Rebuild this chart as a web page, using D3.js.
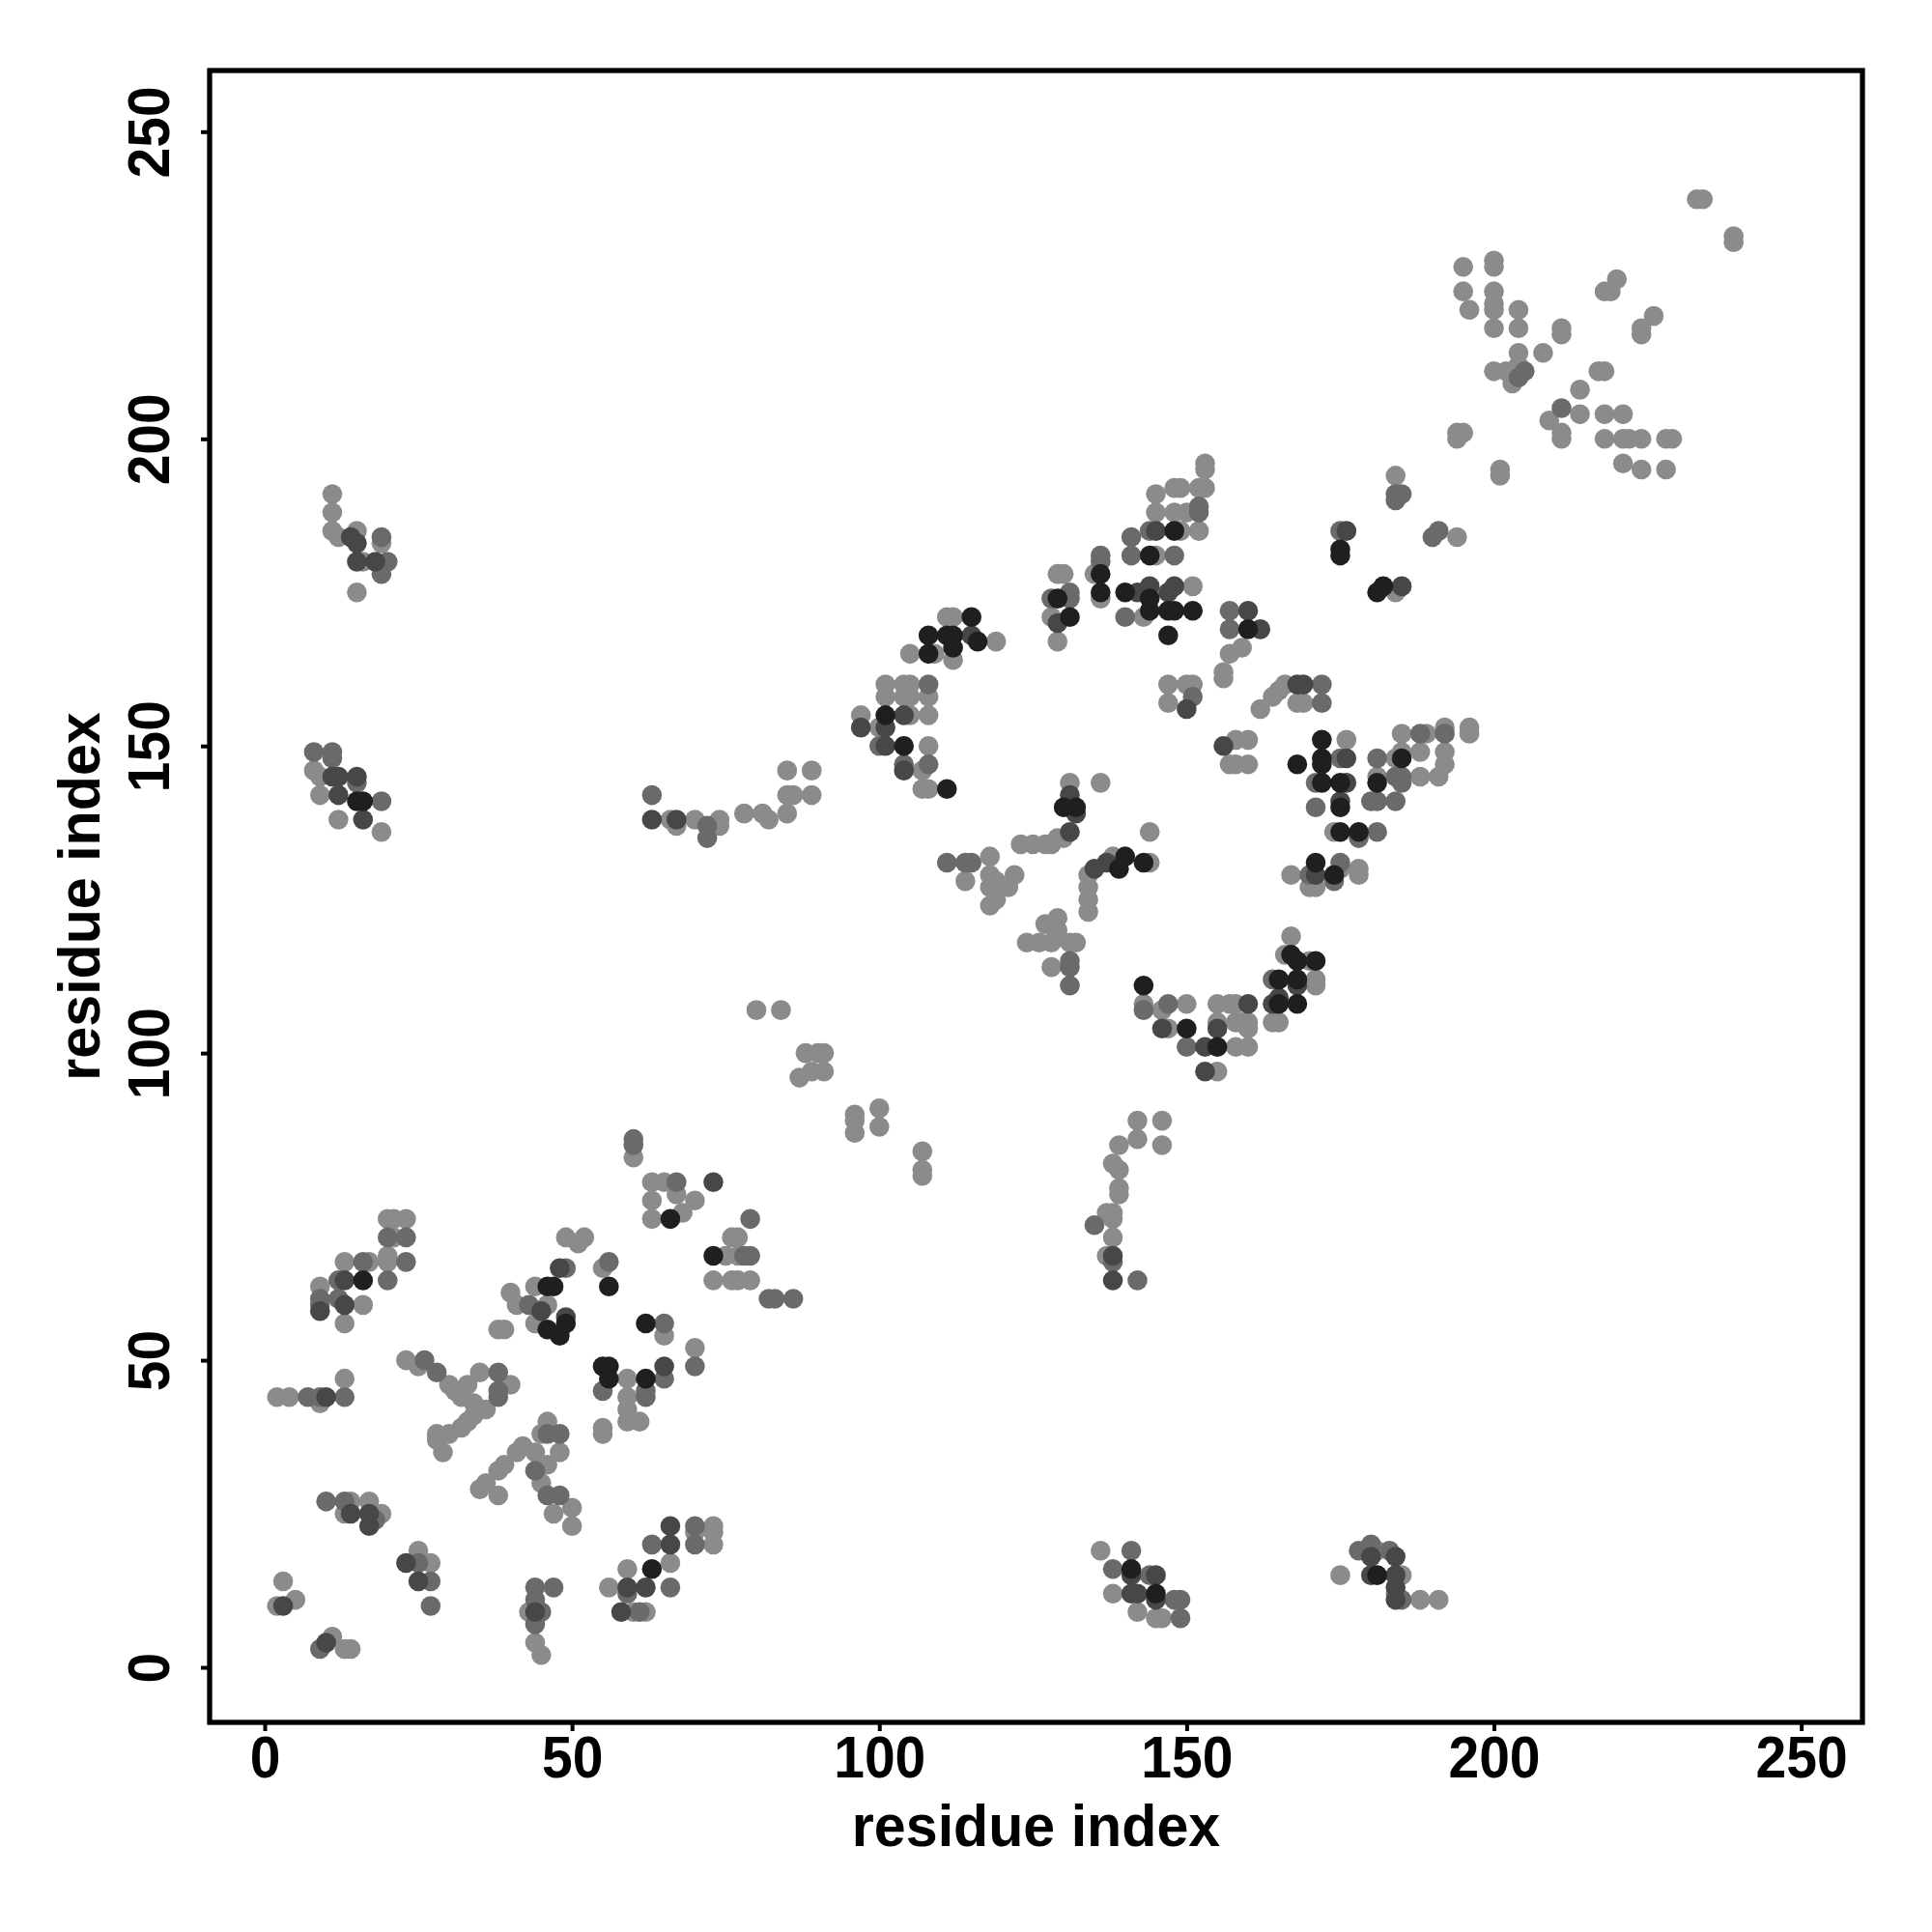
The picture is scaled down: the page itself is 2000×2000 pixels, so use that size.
<!DOCTYPE html>
<html><head><meta charset="utf-8">
<script src="https://cdn.jsdelivr.net/npm/d3@7"></script>
<style>body{margin:0;background:#fff}svg{display:block}</style>
</head><body>
<script>
// Each contact: [residue i (x), residue j (y), score level 1..4]
const lowerLeftContacts = [
 [20,73,1],[21,73,1],[23,73,1],[20,70,2],[21,70,1],[23,70,2],[13,66,1],[16,66,2],[17,66,1],[20,66,1],[23,66,2],[20,67,1],
 [12,63,2],[13,63,3],[16,63,4],[20,63,2],[9,62,1],[9,60,2],[9,59,2],[9,58,3],[12,60,2],[13,59,3],[16,59,1],[13,56,1],
 [2,44,1],[4,44,1],[7,44,2],[9,44,2],[10,44,3],[13,44,2],[13,47,1],[9,43,1]
];
const sheetContacts = [
 [23,50,1],[25,49,1],[26,50,2],[28,48,2],[30,46,1],[31,45,1],[33,46,1],[32,44,1],[34,43,1],[36,42,1],[35,48,1],[38,48,2],[40,46,1],[38,45,2],[38,44,2],
 [28,38,1],[30,38,1],[32,39,1],[33,40,1],[34,41,1],[29,35,1],[28,37,1],
 [46,40,1],[46,38,2],[48,38,2],[45,38,1],[42,36,1],[41,35,1],[39,33,1],[38,32,1],[36,30,1],[35,29,1],[38,28,1],
 [44,35,1],[46,33,1],[48,35,1],[44,32,2],[45,30,1],[46,28,2],[48,28,2],[50,26,1],[50,23,1],[47,25,1],
 [49,70,1],[52,70,1],[51,69,1],[48,65,3],[49,65,2],[55,65,1],[56,66,2],[56,62,4],[40,61,1],[44,62,1],[46,62,4],[47,62,4],
 [41,59,1],[43,59,2],[45,58,3],[46,59,1],[38,55,1],[39,55,1],[44,56,1],[46,55,4],[49,56,4],[48,54,4],[49,57,3],
 [62,56,4],[65,56,2],[65,54,1],[70,52,1],[70,49,2],[65,49,3],[65,47,2],[55,49,4],[56,49,4],[56,47,4],[55,45,2],
 [59,47,1],[59,44,1],[59,42,1],[59,40,1],[61,40,1],[62,47,4],[62,45,2],[62,44,2],[55,39,1],[55,38,1]
];
const nearDiagonalA = [
 [63,79,1],[65,79,1],[67,79,2],[73,79,3],[63,76,1],[67,77,1],[70,76,1],[63,73,1],[66,73,4],[68,74,1],[79,73,2],
 [73,67,4],[75,67,1],[77,67,1],[78,67,2],[79,67,2],[76,70,1],[77,70,1],[73,63,1],[76,63,1],[77,63,1],[79,63,1],
 [82,60,2],[83,60,2],[86,60,2],[60,86,2],[60,85,2],[60,83,1],
 [80,107,1],[84,107,1],[88,100,1],[90,100,1],[91,100,1],[87,96,1],[89,97,1],[91,97,1],
 [96,90,1],[96,89,1],[96,87,1],[100,91,1],[100,88,1],[107,84,1],[107,81,1],[107,80,1]
];
const bottomContacts = [
 [10,27,2],[13,27,2],[14,27,1],[17,27,1],[13,25,1],[14,25,3],[17,25,3],[19,25,1],[17,23,3],[18,24,2],
 [23,17,3],[25,19,1],[25,17,2],[27,17,1],[25,14,3],[27,14,2],[27,10,2],
 [3,14,1],[2,10,1],[3,10,3],[5,11,1],[10,4,3],[11,5,1],[14,3,1],[13,3,1],[9,3,2],
 [44,13,2],[47,13,2],[44,9,3],[44,7,2],[43,9,1],[45,9,2],[44,4,1],[45,2,1],[44,11,2],
 [56,13,1],[59,13,3],[62,13,3],[59,12,2],[59,16,1],[63,16,4],[66,17,1],[63,20,2],[66,20,3],[66,23,3],
 [70,23,2],[70,20,2],[73,23,1],[73,20,1],[66,13,2],[58,9,3],[60,9,1],[62,9,1],[61,9,2],[70,22,1],[73,22,1],
 [136,19,1],[141,19,2],[138,16,2],[141,16,4],[141,15,3],[144,15,2],[145,15,3],[138,12,1],[141,12,3],[142,12,3],
 [145,12,4],[145,11,3],[148,11,2],[149,11,2],[142,9,1],[145,8,1],[146,8,1],[149,8,2],
 [175,15,1],[178,19,2],[180,20,2],[180,18,3],[181,19,1],[183,19,2],[184,18,3],[180,15,3],[181,15,4],[184,15,3],
 [185,15,1],[184,13,3],[184,12,1],[184,11,3],[185,11,2],[188,11,1],[191,11,1],
 [139,78,1],[139,77,1],[137,74,1],[138,74,1],[135,72,2],[138,73,1],[138,70,1],[137,67,1],[138,67,3],[138,66,2],
 [138,63,3],[142,63,2],[142,89,1],[146,89,1],[142,86,1],[146,85,1],[139,85,1],[138,82,1],[139,81,1]
];
const leftContacts = [
 [8,149,2],[11,149,2],[11,148,2],[8,146,1],[9,145,1],[11,145,3],[12,145,3],[15,145,3],[15,144,2],[9,142,1],
 [12,142,3],[15,141,4],[16,141,4],[19,141,2],[12,138,1],[16,138,3],[19,136,1],
 [11,191,1],[11,188,1],[11,185,1],[12,184,1],[15,185,1],[15,183,3],[14,184,3],[19,184,2],[19,183,1],
 [15,180,3],[16,180,1],[18,180,3],[20,180,2],[19,178,2],[15,175,1],
 [63,142,2],[63,138,3],[66,138,1],[67,138,3],[67,137,1],[70,138,1],[72,137,2],[74,138,1],[74,137,1],[72,135,2],
 [78,139,1],[81,139,1],[82,138,1],[85,139,1],[85,146,1],[89,146,1],[85,142,1],[86,142,1],[89,142,1]
];
const middleContacts = [
 [101,160,1],[101,158,1],[104,160,1],[105,160,1],[104,158,1],[105,158,1],[108,160,2],[108,158,1],[108,155,1],[97,155,1],
 [101,155,4],[104,155,3],[105,155,1],[97,153,3],[100,153,1],[101,153,3],[100,150,2],[101,150,3],[104,150,4],[108,150,1],
 [104,147,2],[104,146,3],[107,146,1],[108,147,2],[107,143,1],[108,143,1],[111,143,4],
 [131,144,1],[136,144,1],[131,142,3],[130,140,4],[132,140,4],[132,139,3],[131,136,3],[130,135,1],[129,135,1],[128,134,1],
 [123,134,1],[125,134,1],[127,134,1],
 [144,136,1],[144,131,1],[143,131,4],[140,132,4],[139,130,4],[138,132,1],[137,131,3],[135,130,3],[134,129,1],[134,127,1],
 [134,125,1],[134,123,1],
 [111,131,2],[114,131,2],[115,131,2],[114,128,1],[118,132,1],[118,129,1],[119,128,1],[122,129,1],[121,127,1],[118,127,1],
 [118,124,1],[119,125,1],
 [129,122,1],[127,121,1],[129,120,1],[124,118,1],[126,118,1],[128,118,1],[131,118,1],[132,118,1],[128,114,1],[131,115,2],
 [131,114,2],[131,111,2],
 [143,111,4],[143,108,1],[143,107,2],[147,108,2],[146,107,1],[150,108,1],[155,108,1],[157,108,1],[160,108,3],
 [146,104,3],[147,104,1],[150,104,4],[155,105,1],[155,104,3],[158,105,1],[159,105,1],[150,101,2],[153,101,3],
 [155,101,4],[158,101,1],[160,101,1],[153,97,3],[155,97,1],
 [147,160,1],[147,157,1],[150,160,1],[151,158,2],[150,156,3],[156,161,1],[156,150,3],[158,151,1],[160,151,1],
 [157,147,1],[160,147,1],[158,147,1]
];
const upperMiddleContacts = [
 [162,156,1],[164,158,1],[165,159,1],[166,160,1],[168,160,3],[169,160,3],[172,160,2],[168,157,1],[169,157,1],[172,157,2],
 [172,151,4],[176,151,1],[168,147,4],[172,148,4],[172,147,4],[175,148,2],[176,148,3],[171,144,2],[172,144,4],[175,144,4],
 [176,144,3],[171,140,2],[175,141,3],[175,140,4],[174,136,1],[175,136,4],[178,136,4],[178,135,2],[181,136,2],
 [180,141,2],[181,141,2],[184,141,2],
 [181,148,2],[181,145,1],[181,144,4],[184,148,1],[185,149,1],[185,148,4],[185,152,1],[184,145,2],[185,145,2],[185,144,2],
 [188,152,2],[189,152,1],[188,149,1],[188,145,1],[191,145,1],[192,149,1],[192,147,1],[192,153,1],[192,152,2],
 [196,153,1],[196,152,1],
 [167,129,1],[171,131,4],[171,129,3],[170,129,2],[170,127,1],[171,127,1],[174,129,4],[174,128,2],[175,131,2],
 [175,130,1],[178,130,1],[178,129,1],
 [167,119,1],[166,116,1],[167,116,4],[168,115,4],[171,115,4],[170,115,1],[164,112,2],[165,112,4],[168,112,4],
 [168,111,3],[171,112,1],[171,111,1],[164,108,3],[165,108,4],[168,108,4],[165,109,3],[158,108,1],[165,105,1],
 [164,105,1],[160,105,1],[160,104,1]
];
const upperContacts = [
 [153,196,1],[153,195,1],[145,191,1],[148,192,1],[149,192,1],[152,192,1],[153,192,1],[145,188,1],[148,188,1],
 [150,188,1],[152,189,2],[152,188,2],[144,185,2],[145,185,3],[148,185,4],[149,185,1],[152,185,1],[141,184,2],
 [141,181,2],[144,181,4],[145,181,1],[148,181,2],
 [136,181,2],[136,180,2],[135,178,1],[136,178,4],[136,175,4],[136,174,1],
 [130,178,1],[129,178,1],[128,174,2],[129,174,4],[131,175,2],[131,174,2],[128,171,1],[129,170,3],[131,171,4],[129,167,1],
 [140,175,4],[142,175,3],[144,176,3],[144,174,4],[147,175,3],[148,176,3],[151,176,1],[140,171,2],[143,171,1],
 [144,172,4],[147,172,4],[148,172,4],[151,172,4],[147,168,4],
 [157,172,2],[160,172,3],[157,169,2],[160,169,4],[162,169,3],[157,165,1],[159,166,1],[156,162,1],
 [111,171,1],[112,171,1],[115,171,4],[108,168,4],[111,168,4],[112,168,4],[115,168,3],[116,167,4],[119,167,1],
 [105,165,1],[108,165,4],[109,165,1],[112,166,4],[112,164,1],[151,160,1]
];
const topRightContacts = [
 [233,239,1],[234,239,1],[239,233,1],[239,232,1],
 [195,228,1],[200,229,1],[200,228,1],[195,224,1],[200,224,1],[196,221,1],[200,222,1],[200,221,1],[204,221,1],
 [200,218,1],[204,218,1],[211,218,1],[211,217,1],[218,224,1],[219,224,1],[220,226,1],[226,220,1],[224,218,1],[224,217,1],
 [204,214,1],[208,214,1],[200,211,1],[202,211,1],[204,212,1],[205,211,2],[203,209,1],[204,210,2],[218,211,1],[217,211,1],
 [214,208,1],[209,203,1],[211,205,2],[211,200,1],[211,201,1],[214,204,1],[218,204,1],[221,204,1],[218,200,1],[221,200,1],
 [222,200,1],[224,200,1],[228,200,1],[229,200,1],[221,196,1],[224,195,1],[228,195,1],
 [194,201,1],[195,201,1],[194,200,1],[201,195,1],[201,194,1],
 [184,194,1],[184,191,2],[185,191,2],[184,190,2],
 [175,185,2],[176,185,3],[175,182,4],[175,181,4],[190,184,2],[191,185,2],[194,184,1],
 [181,175,4],[182,176,4],[185,176,3],[184,175,1]
];
const tickValues = [0, 50, 100, 150, 200, 250];
const xTitle = "residue index";
const yTitle = "residue index";
const nResidues = 250;

const W = 2000, H = 2000;
const L = 217, R = 1928, T = 73, B = 1783;
const svg = d3.select("body").append("svg").attr("width", W).attr("height", H);
const pad = (nResidues - 1) * 0.04;
const x = d3.scaleLinear().domain([1 - pad, nResidues + pad]).range([L, R]);
const y = d3.scaleLinear().domain([1 - pad, nResidues + pad]).range([B, T]);
const shade = d3.scaleOrdinal().domain([1, 2, 3, 4]).range(["#8b8b8b", "#6a6a6a", "#474747", "#1f1f1f"]);

const all = [].concat(lowerLeftContacts, sheetContacts, nearDiagonalA, bottomContacts, leftContacts,
  middleContacts, upperMiddleContacts, upperContacts, topRightContacts)
  .map(d => ({i: d[0], j: d[1], s: d[2]}))
  .sort((a, b) => a.s - b.s);

svg.append("g").selectAll("circle").data(all).join("circle")
  .attr("cx", d => x(d.i)).attr("cy", d => y(d.j)).attr("r", 10.3)
  .attr("fill", d => shade(d.s));

const font = "'Liberation Sans', Arial, Helvetica, sans-serif";
const gx = svg.append("g").attr("transform", `translate(0,${B})`)
  .call(d3.axisBottom(x).tickValues(tickValues).tickSize(9).tickFormat(d3.format("d")));
gx.select(".domain").remove();
gx.selectAll(".tick line").attr("stroke", "#000").attr("stroke-width", 4);
gx.selectAll(".tick text").attr("y", 57).attr("dy", 0).attr("transform", "scale(0.92,1)")
  .attr("font-family", font).attr("font-weight", "bold").attr("font-size", 62).attr("fill", "#000");

const gy = svg.append("g").attr("transform", `translate(${L},0)`)
  .call(d3.axisLeft(y).tickValues(tickValues).tickSize(9).tickFormat(d3.format("d")));
gy.select(".domain").remove();
gy.selectAll(".tick line").attr("stroke", "#000").attr("stroke-width", 4);
gy.selectAll(".tick text").attr("transform", "rotate(-90) scale(0.92,1)").attr("x", 0).attr("y", -42).attr("dy", 0)
  .attr("text-anchor", "middle")
  .attr("font-family", font).attr("font-weight", "bold").attr("font-size", 62).attr("fill", "#000");

svg.append("rect").attr("x", L).attr("y", T).attr("width", R - L).attr("height", B - T)
  .attr("fill", "none").attr("stroke", "#000").attr("stroke-width", 5.3);

svg.append("text").attr("transform", `translate(${(L + R) / 2},1911) scale(0.97,1)`).attr("text-anchor", "middle")
  .attr("font-family", font).attr("font-weight", "bold").attr("font-size", 61).text(xTitle);
svg.append("text").attr("transform", `translate(103,${(T + B) / 2}) rotate(-90) scale(0.97,1)`).attr("text-anchor", "middle")
  .attr("font-family", font).attr("font-weight", "bold").attr("font-size", 61).text(yTitle);
</script>
</body></html>
